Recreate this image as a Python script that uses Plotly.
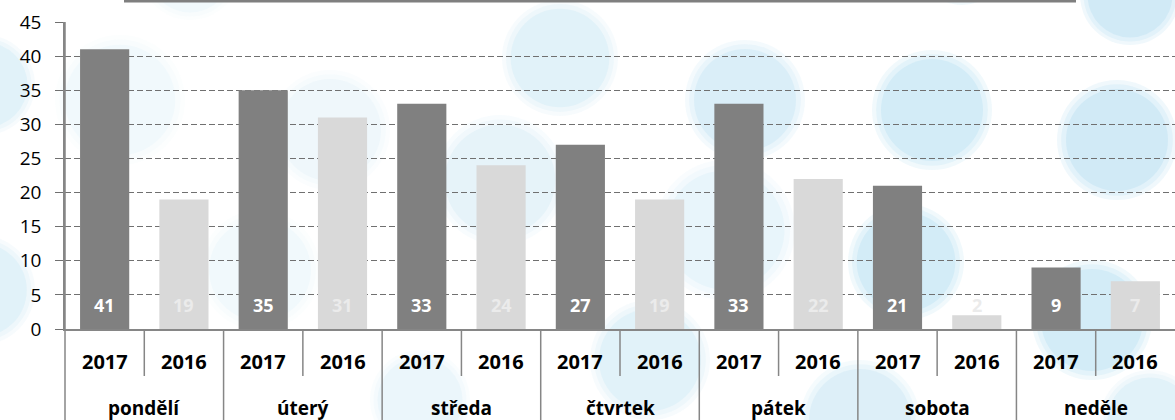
import plotly.graph_objects as go

days = ["pondělí", "úterý", "středa", "čtvrtek", "pátek", "sobota", "neděle"]
years = ["2017", "2016"]
v2017 = [41, 35, 33, 27, 33, 21, 9]
v2016 = [19, 31, 24, 19, 22, 2, 7]
y_ticks = [0, 5, 10, 15, 20, 25, 30, 35, 40, 45]

W, H = 1175, 420
L, R, T, B = 65, 0, 22, 91
PW, PH = W - L - R, H - T - B

def px(X):
    return (X - L) / PW

def py(Y):
    return (H - B - Y) / PH

FONT = "Open Sans"
GRAY = "#868686"

x17 = [2 * i for i in range(len(days))]
x16 = [2 * i + 1 for i in range(len(days))]

fig = go.Figure()
fig.add_trace(go.Bar(x=x17, y=v2017, width=0.62, marker=dict(color="#808080", line=dict(width=0)),
                     name=years[0], hoverinfo="y"))
fig.add_trace(go.Bar(x=x16, y=v2016, width=0.62, marker=dict(color="#d9d9d9", line=dict(width=0)),
                     name=years[1], hoverinfo="y"))

shapes = []
# decorative background circles (pixel cx, cy, r, opacity)
circles = [(-15, 85, 50, 0.3), (-20, 290, 55, 0.3), (120, 100, 65, 0.12), (190, -30, 50, 0.12),
           (330, 130, 60, 0.15), (260, 270, 60, 0.12), (500, 180, 65, 0.25), (560, 58, 58, 0.3),
           (745, 100, 60, 0.4), (725, 230, 70, 0.22), (932, 110, 60, 0.5), (962, -40, 45, 0.5),
           (1130, -5, 50, 0.55), (1117, 140, 60, 0.55), (906, 262, 58, 0.5), (1092, 320, 60, 0.5),
           (650, 360, 60, 0.3), (860, 420, 60, 0.35), (1150, 420, 50, 0.3), (420, 400, 50, 0.18)]
for cx, cy, r, op in circles:
    for k, f in ((1.0, 0.5), (0.93, 0.6), (0.85, 1.0)):
        rr = r * k
        shapes.append(dict(type="circle", xref="paper", yref="paper",
                           x0=px(cx - rr), x1=px(cx + rr), y0=py(cy + rr), y1=py(cy - rr),
                           fillcolor="rgb(190,226,243)", opacity=min(1.0, op * f * 0.85),
                           line=dict(width=0), layer="below"))

# top line
shapes.append(dict(type="line", xref="paper", yref="paper", x0=px(124), x1=px(1076),
                   y0=py(1), y1=py(1), line=dict(color="#7f7f7f", width=3)))
# left axis extension
shapes.append(dict(type="line", xref="paper", yref="paper", x0=0, x1=0, y0=py(420), y1=1,
                   line=dict(color=GRAY, width=1.5)))
# dividers
for i in range(len(days)):
    shapes.append(dict(type="line", xref="x", yref="paper", x0=2 * i + 0.5, x1=2 * i + 0.5,
                       y0=py(376), y1=0, line=dict(color=GRAY, width=1.5)))
    if i < len(days) - 1:
        shapes.append(dict(type="line", xref="x", yref="paper", x0=2 * i + 1.5, x1=2 * i + 1.5,
                           y0=py(420), y1=0, line=dict(color=GRAY, width=1.5)))

annotations = []
for i in range(len(days)):
    annotations.append(dict(x=x17[i], y=3.5, xref="x", yref="y", text=f"<b>{v2017[i]}</b>",
                            showarrow=False, font=dict(family=FONT, size=18, color="white")))
    annotations.append(dict(x=x16[i], y=3.5, xref="x", yref="y", text=f"<b>{v2016[i]}</b>",
                            showarrow=False, font=dict(family=FONT, size=18, color="#ebebeb")))
    for xx, yr in ((x17[i], years[0]), (x16[i], years[1])):
        annotations.append(dict(x=xx, y=py(361), xref="x", yref="paper", text=f"<b>{yr}</b>",
                                showarrow=False, yanchor="middle",
                                font=dict(family=FONT, size=20, color="black")))
    annotations.append(dict(x=2 * i + 0.5, y=py(408), xref="x", yref="paper", text=f"<b>{days[i]}</b>",
                            showarrow=False, yanchor="middle",
                            font=dict(family=FONT, size=19, color="black")))

fig.update_layout(
    width=W, height=H, margin=dict(l=L, r=R, t=T, b=B),
    paper_bgcolor="white", plot_bgcolor="rgba(0,0,0,0)",
    showlegend=False, barmode="overlay",
    shapes=shapes, annotations=annotations,
    xaxis=dict(range=[-0.5, 13.5], showticklabels=False, showgrid=False, zeroline=False,
               showline=True, linecolor=GRAY, linewidth=1.5, ticks=""),
    yaxis=dict(range=[0, 45], tickvals=y_ticks, showgrid=True, gridcolor="#707070",
               griddash="6px,3px", gridwidth=1.4, zeroline=False, showline=True,
               linecolor=GRAY, linewidth=1.5,
               ticks="outside", ticklen=8, tickcolor="#707070", tickwidth=1.4,
               ticklabelstandoff=10,
               tickfont=dict(family=FONT, size=19, color="black")),
)

fig.write_html("out.html")
